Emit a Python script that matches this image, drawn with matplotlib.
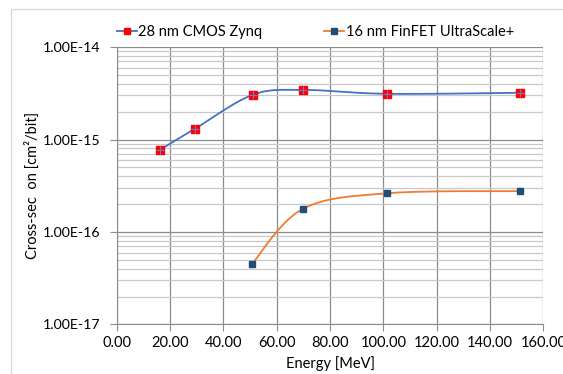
import numpy as np
import matplotlib
matplotlib.use("Agg")
from matplotlib import pyplot as plt
from matplotlib.lines import Line2D
from matplotlib.patches import Rectangle
from matplotlib.ticker import FixedLocator, FuncFormatter, NullFormatter

plt.rcParams['font.family'] = ['Lato', 'DejaVu Sans']

# data
energy_28 = [16.1, 29.4, 51.0, 69.7, 101.2, 151.2]
xsec_28 = [7.7e-16, 1.31e-15, 3.04e-15, 3.44e-15, 3.12e-15, 3.2e-15]
energy_16 = [50.7, 69.7, 101.2, 151.2]
xsec_16 = [4.5e-17, 1.77e-16, 2.62e-16, 2.77e-16]

label_28 = "28 nm CMOS Zynq"
label_16 = "16 nm FinFET UltraScale+"
x_ticks = [0, 20, 40, 60, 80, 100, 120, 140, 160]
y_ticks = [1e-17, 1e-16, 1e-15, 1e-14]

c_blue = '#4472C4'
c_orange = '#ED7D31'
c_red = '#FF0000'
c_navy = '#1F4E79'
c_grid = '#8C8C8C'
c_minor = '#C8C8C8'


def smooth(xs, ys, n=40):
    # catmull-rom through the points, in (x, log y) like Excel's smoothed line
    x = np.asarray(xs, float)
    y = np.log10(ys)
    px = np.concatenate([[x[0]], x, [x[-1]]])
    py = np.concatenate([[y[0]], y, [y[-1]]])
    ox, oy = [], []
    t = np.linspace(0, 1, n)
    for i in range(1, len(px) - 2):
        for p, out in ((px, ox), (py, oy)):
            p0, p1, p2, p3 = p[i - 1], p[i], p[i + 1], p[i + 2]
            c1 = p1 + (p2 - p0) / 6
            c2 = p2 - (p3 - p1) / 6
            out.extend((1 - t) ** 3 * p1 + 3 * (1 - t) ** 2 * t * c1
                       + 3 * (1 - t) * t ** 2 * c2 + t ** 3 * p2)
    return np.array(ox), 10 ** np.array(oy)


fig = plt.figure(figsize=(5.63, 3.74), dpi=100)
ax = fig.add_axes([0.2073, 0.1324, 0.7577, 0.7419])

# chart area border
fig.patches.append(Rectangle((11 / 563, -0.1), 1.2, 1 - 9 / 374 + 0.1,
                             transform=fig.transFigure, fill=False,
                             edgecolor='#D9D9D9', lw=1.0))

sx, sy = smooth(energy_28, xsec_28)
ax.plot(sx, sy, color=c_blue, lw=1.3, zorder=3)
ax.plot(energy_28, xsec_28, ls='none', marker='s', ms=6, mfc=c_red,
        mec=c_red, zorder=4)
ax.plot(energy_28, xsec_28, ls='none', marker='+', ms=6, mew=0.8,
        color='#6A7FD0', zorder=5)

sx, sy = smooth(energy_16, xsec_16)
ax.plot(sx, sy, color=c_orange, lw=1.3, zorder=3)
ax.plot(energy_16, xsec_16, ls='none', marker='s', ms=5, mfc=c_navy,
        mec=c_navy, zorder=4)

ax.set_yscale('log')
ax.set_xlim(0, 160)
ax.set_ylim(1e-17, 1e-14)
ax.xaxis.set_major_locator(FixedLocator(x_ticks))
ax.xaxis.set_major_formatter(FuncFormatter(lambda v, p: f"{v:.2f}"))
ax.yaxis.set_major_locator(FixedLocator(y_ticks))
ax.yaxis.set_major_formatter(FuncFormatter(lambda v, p: f"{v:.2E}"))
ax.yaxis.set_minor_locator(FixedLocator(
    [m * 10.0 ** e for e in (-17, -16, -15) for m in range(2, 10)]))
ax.yaxis.set_minor_formatter(NullFormatter())

ax.grid(True, which='major', color=c_grid, lw=0.9)
ax.grid(True, which='minor', axis='y', color=c_minor, lw=0.9)
ax.set_axisbelow(True)
for s in ('top', 'right'):
    ax.spines[s].set_visible(False)
for s in ('left', 'bottom'):
    ax.spines[s].set_color(c_grid)
ax.tick_params(which='major', length=5, color=c_grid, labelsize=10.5,
               labelcolor='#000000')
ax.tick_params(axis='x', pad=3)
ax.tick_params(axis='y', pad=7, labelsize=10.2)
ax.tick_params(which='minor', length=0)

ax.set_xlabel("Energy [MeV]", fontsize=10.5, labelpad=5)
ax.set_ylabel("Cross-sec  on [cm²/bit]", fontsize=10.5, labelpad=2)

handles = [
    (Line2D([], [], color=c_blue, lw=1.3),
     Line2D([], [], ls='none', marker='s', ms=5, mfc=c_red, mec=c_red)),
    (Line2D([], [], color=c_orange, lw=1.3),
     Line2D([], [], ls='none', marker='s', ms=5, mfc=c_navy, mec=c_navy)),
]
fig.legend(handles, [label_28, label_16], loc='center', ncol=2,
           bbox_to_anchor=(0.56, 0.915), frameon=False, fontsize=10.5,
           handlelength=1.4, handletextpad=0.1, columnspacing=4.2)

fig.savefig("out.png", dpi=100)
